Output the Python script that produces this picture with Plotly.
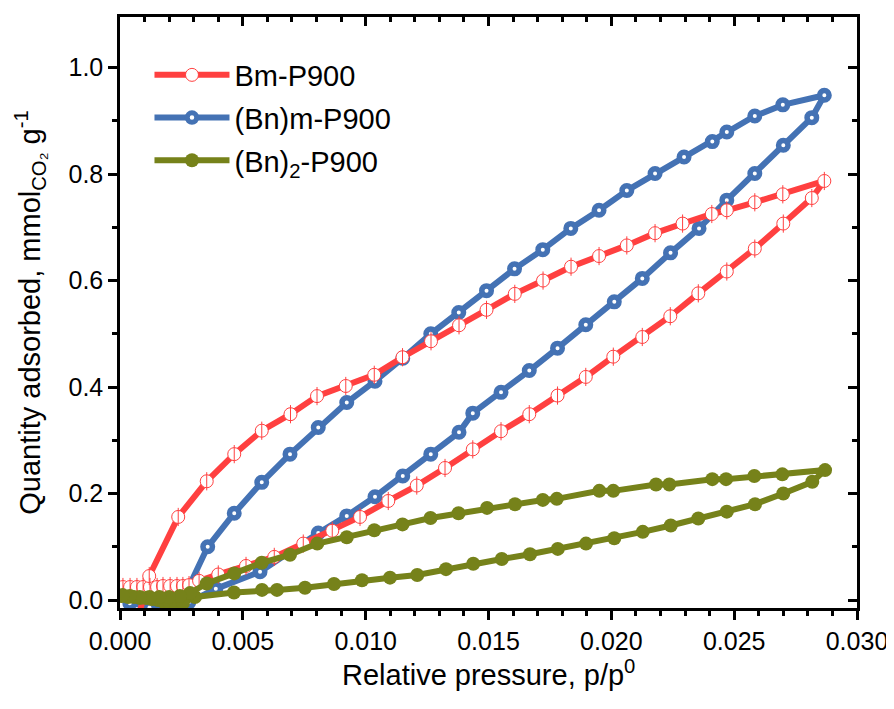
import plotly.graph_objects as go

# ---------------- data ----------------
bm_x = [0.00012, 0.00041, 0.00069, 0.00094, 0.00122, 0.00151, 0.00175, 0.00204, 0.00232, 0.00256, 0.00281,
        0.00322, 0.0040, 0.00513, 0.00628, 0.00746, 0.00864, 0.00977, 0.01092, 0.01208, 0.01323, 0.01436,
        0.01551, 0.01666, 0.01781, 0.01896, 0.02008, 0.02126, 0.0224, 0.02354, 0.0247, 0.02584, 0.027,
        0.02816, 0.02867,
        0.02698, 0.02584, 0.0247, 0.02409, 0.0229, 0.02178, 0.02063, 0.0195, 0.01836, 0.01722, 0.01607,
        0.01492, 0.0138, 0.01266, 0.0115, 0.01035, 0.00919, 0.00802, 0.00694, 0.00577, 0.00465, 0.00353,
        0.00237, 0.00119, 0.0005]
bm_y = [0.0244, 0.0244, 0.0244, 0.0244, 0.0244, 0.0244, 0.0263, 0.0263, 0.0263, 0.0263, 0.028,
        0.036, 0.048, 0.064, 0.081, 0.106, 0.130, 0.156, 0.186, 0.215, 0.248, 0.283,
        0.317, 0.349, 0.384, 0.419, 0.457, 0.494, 0.533, 0.576, 0.617, 0.660, 0.707,
        0.755, 0.787,
        0.762, 0.747, 0.732, 0.725, 0.707, 0.689, 0.666, 0.646, 0.626, 0.600, 0.575,
        0.545, 0.516, 0.486, 0.456, 0.423, 0.402, 0.383, 0.349, 0.318, 0.274, 0.223,
        0.156, 0.045, -0.075]

bn_x = [0.0004, 0.0012, 0.0020, 0.0028, 0.0039, 0.0057, 0.00807, 0.00923, 0.01038, 0.01151, 0.01265,
        0.0138, 0.01436, 0.01551, 0.01666, 0.01781, 0.01896, 0.02012, 0.02126, 0.02241, 0.02357,
        0.0247, 0.02584, 0.027, 0.02816, 0.02867,
        0.02698, 0.02584, 0.0247, 0.02411, 0.02296, 0.02178, 0.02063, 0.0195, 0.01835, 0.01721,
        0.01606, 0.01492, 0.01379, 0.01265, 0.01151, 0.01038, 0.00923, 0.00807, 0.00692, 0.00577,
        0.00465, 0.00357, 0.0026, 0.0019, 0.0012]
bn_y = [-0.006, -0.011, -0.011, -0.004, 0.021, 0.053, 0.126, 0.158, 0.194, 0.233, 0.274,
        0.315, 0.351, 0.390, 0.431, 0.473, 0.517, 0.560, 0.604, 0.652, 0.698,
        0.751, 0.801, 0.854, 0.906, 0.948,
        0.930, 0.909, 0.879, 0.861, 0.832, 0.801, 0.769, 0.732, 0.698, 0.658,
        0.622, 0.581, 0.540, 0.500, 0.454, 0.411, 0.371, 0.324, 0.274, 0.221,
        0.163, 0.100, 0.005, -0.012, -0.014]

bn2_x = [0.00008, 0.00033, 0.00057, 0.00081, 0.00106, 0.0013, 0.00155, 0.00179, 0.00204, 0.00228, 0.00256,
         0.00305, 0.00464, 0.00578, 0.00639, 0.00753, 0.00871, 0.00985, 0.01099, 0.0121, 0.01327, 0.01438,
         0.01554, 0.01669, 0.01782, 0.01897, 0.02012, 0.02128, 0.02242, 0.02354, 0.0247, 0.02585, 0.027,
         0.02818, 0.0287,
         0.02696, 0.02582, 0.02467, 0.02411, 0.02236, 0.02182, 0.02008, 0.01951, 0.01778, 0.01721, 0.01608,
         0.01494, 0.01378, 0.01264, 0.0115, 0.01035, 0.00923, 0.00803, 0.00692, 0.00577, 0.00465, 0.00353,
         0.00285, 0.00244, 0.0020, 0.0016, 0.0012, 0.0008, 0.0004, 0.0001]
bn2_y = [0.0075, 0.0056, 0.0056, 0.0038, 0.0038, 0.0019, 0.0, -0.0038, -0.0075, -0.0094, -0.0056,
         0.0056, 0.014, 0.019, 0.019, 0.023, 0.030, 0.037, 0.042, 0.047, 0.058, 0.068,
         0.077, 0.086, 0.096, 0.106, 0.116, 0.128, 0.140, 0.153, 0.166, 0.180, 0.200,
         0.222, 0.244,
         0.236, 0.233, 0.227, 0.227, 0.217, 0.217, 0.205, 0.205, 0.190, 0.188, 0.180,
         0.173, 0.163, 0.154, 0.142, 0.131, 0.118, 0.106, 0.085, 0.070, 0.050, 0.031,
         0.013, 0.0075, 0.0056, 0.0056, 0.0056, 0.0056, 0.0075, 0.0094]

names = ["Bm-P900", "(Bn)m-P900", "(Bn)<sub>2</sub>-P900"]
x_title = "Relative pressure, p/p<sup>0</sup>"
y_title = "Quantity adsorbed, mmol<sub>CO₂</sub> g<sup>-1</sup>"
x_range = [0.0, 0.030]
y_range = [-0.015, 1.095]
x_ticks = [0.000, 0.005, 0.010, 0.015, 0.020, 0.025, 0.030]
y_ticks = [0.0, 0.2, 0.4, 0.6, 0.8, 1.0]

RED = "#FF4040"
BLUE = "#4472B4"
GREEN = "#76821A"
FONT = "Liberation Sans, Arial, sans-serif"

fig = go.Figure()

fig.add_trace(go.Scatter(
    x=bn_x, y=bn_y, name=names[1], mode="lines+markers", legendrank=2, legendgroup="b",
    line=dict(color=BLUE, width=6),
    marker=dict(symbol="circle", size=9.5, color="white", line=dict(color=BLUE, width=5.5)),
))
fig.add_trace(go.Scatter(
    x=bm_x, y=bm_y, name=names[0], mode="lines+markers", legendrank=1, legendgroup="a",
    line=dict(color=RED, width=6),
    marker=dict(symbol="circle", size=13, color="white", line=dict(color=RED, width=1)),
))
fig.add_trace(go.Scatter(
    x=bm_x, y=bm_y, mode="markers", showlegend=False, hoverinfo="skip",
    marker=dict(symbol="line-ns-open", size=13, color=RED, line=dict(color=RED, width=1)),
))
fig.add_trace(go.Scatter(
    x=bn2_x, y=bn2_y, name=names[2], mode="lines+markers", legendrank=3, legendgroup="c",
    line=dict(color=GREEN, width=6),
    marker=dict(symbol="circle", size=14, color=GREEN, line=dict(width=0)),
))
# invisible trace to create the mirrored (inward-tick) axes
fig.add_trace(go.Scatter(x=[None], y=[None], xaxis="x2", yaxis="y2", showlegend=False, hoverinfo="skip"))

axis_common = dict(showline=True, linecolor="black", linewidth=2.5, showgrid=False, zeroline=False,
                   tickcolor="black", tickwidth=2.5, ticklen=9)

fig.update_layout(
    width=894, height=709,
    margin=dict(l=112, r=45, t=9, b=109),
    paper_bgcolor="white", plot_bgcolor="white",
    font=dict(family=FONT, color="black"),
    xaxis=dict(range=x_range, tickvals=x_ticks, tickformat=".3f", ticks="outside",
               tickfont=dict(size=25),
               minor=dict(dtick=0.001, ticks="outside", ticklen=5, tickwidth=2.5, tickcolor="black"),
               **axis_common),
    yaxis=dict(range=y_range, tickvals=y_ticks, tickformat=".1f", ticks="outside",
               tickfont=dict(size=25),
               title=dict(text=y_title, font=dict(size=29), standoff=20),
               minor=dict(dtick=0.1, tick0=0, ticks="outside", ticklen=5, tickwidth=2.5, tickcolor="black"),
               **axis_common),
    xaxis2=dict(range=x_range, overlaying="x", side="top", anchor="y2", tickvals=x_ticks,
                ticks="inside", showticklabels=False,
                minor=dict(dtick=0.001, ticks="inside", ticklen=5, tickwidth=2.5, tickcolor="black"),
                **axis_common),
    yaxis2=dict(range=y_range, overlaying="y", side="right", anchor="x2", tickvals=y_ticks,
                ticks="inside", showticklabels=False,
                minor=dict(dtick=0.1, tick0=0, ticks="inside", ticklen=5, tickwidth=2.5, tickcolor="black"),
                **axis_common),
    legend=dict(x=0.04, y=0.945, xanchor="left", yanchor="top", bgcolor="rgba(0,0,0,0)",
                font=dict(size=29, family=FONT), itemwidth=75, traceorder="grouped",
                tracegroupgap=2),
    showlegend=True,
    annotations=[dict(text=x_title, xref="paper", yref="paper", x=0.5, y=-0.11,
                      xanchor="center", yanchor="middle", showarrow=False,
                      font=dict(size=29, family=FONT, color="black"))],
)

fig.write_html("out.html")
